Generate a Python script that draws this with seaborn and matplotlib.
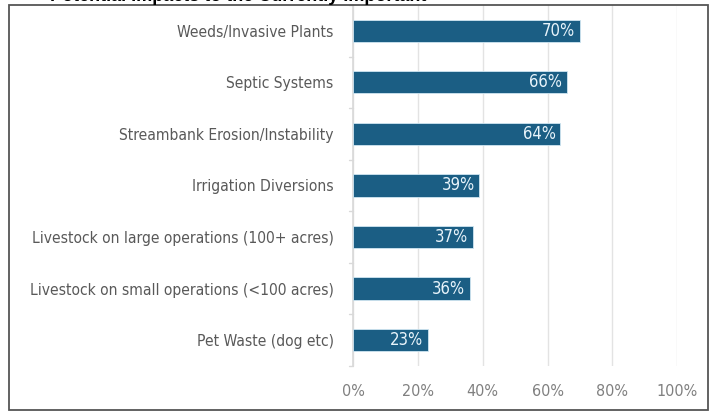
import matplotlib
matplotlib.use("Agg")
import matplotlib.pyplot as plt
import seaborn as sns
import pandas as pd
from matplotlib.patches import Rectangle

# chart data
impacts = [
    'Weeds/Invasive Plants',
    'Septic Systems',
    'Streambank Erosion/Instability',
    'Irrigation Diversions',
    'Livestock on large operations (100+ acres)',
    'Livestock on small operations (<100 acres)',
    'Pet Waste (dog etc)',
]
percents = [70, 66, 64, 39, 37, 36, 23]
xticks = [0, 20, 40, 60, 80, 100]
title = 'Potential Impacts to the Currently Important'

barColor = '#1b5e84'

sns.set_theme(style='white')
plt.rcParams['font.family'] = ['DejaVu Sans']
plt.rcParams['font.stretch'] = 'condensed'

df = pd.DataFrame({'impact': impacts, 'pct': percents})

fig = plt.figure(figsize=(7.12, 4.13), dpi=100)
ax = fig.add_axes([0.496, 0.114, 0.455, 0.874])

sns.barplot(data=df, x='pct', y='impact', color=barColor, width=0.43,
            saturation=1, edgecolor='#cfe6f2', linewidth=0.6, ax=ax, zorder=3)

ax.set_xlim(0, 100)
ax.set_ylim(6.5, -0.5)
ax.set_xticks(xticks)
ax.set_xticklabels([str(t) + '%' for t in xticks], color='#808080', fontsize=11.5)
ax.tick_params(axis='y', labelsize=11.2, labelcolor='#595959', length=0, pad=14)
ax.tick_params(axis='x', length=0, pad=13)
ax.set_xlabel('')
ax.set_ylabel('')
ax.grid(axis='x', color='#e3e3e3', linewidth=1, zorder=0)
for s in ['top', 'right', 'bottom']:
    ax.spines[s].set_visible(False)
ax.spines['left'].set_color('#d9d9d9')

# small separators on the category axis
for i in range(len(impacts) + 1):
    ax.plot([-1.2, 0], [i - 0.5, i - 0.5], color='#d9d9d9', lw=1,
            clip_on=False, zorder=2)

for i, v in enumerate(percents):
    ax.text(v - 1.5, i, str(v) + '%', ha='right', va='center',
            color='#e8f4fb', fontsize=12, zorder=4)

# outer frame and clipped title
fig.patches.append(Rectangle((0.012, 0.007), 0.982, 0.98, transform=fig.transFigure,
                             fill=False, edgecolor='#555555', linewidth=1.3))
fig.text(0.07, 1.008, title, fontsize=13, fontweight='bold', color='black',
         family=['Liberation Sans', 'DejaVu Sans'], stretch='normal',
         ha='left', va='center')

fig.savefig('out.png', dpi=100)
